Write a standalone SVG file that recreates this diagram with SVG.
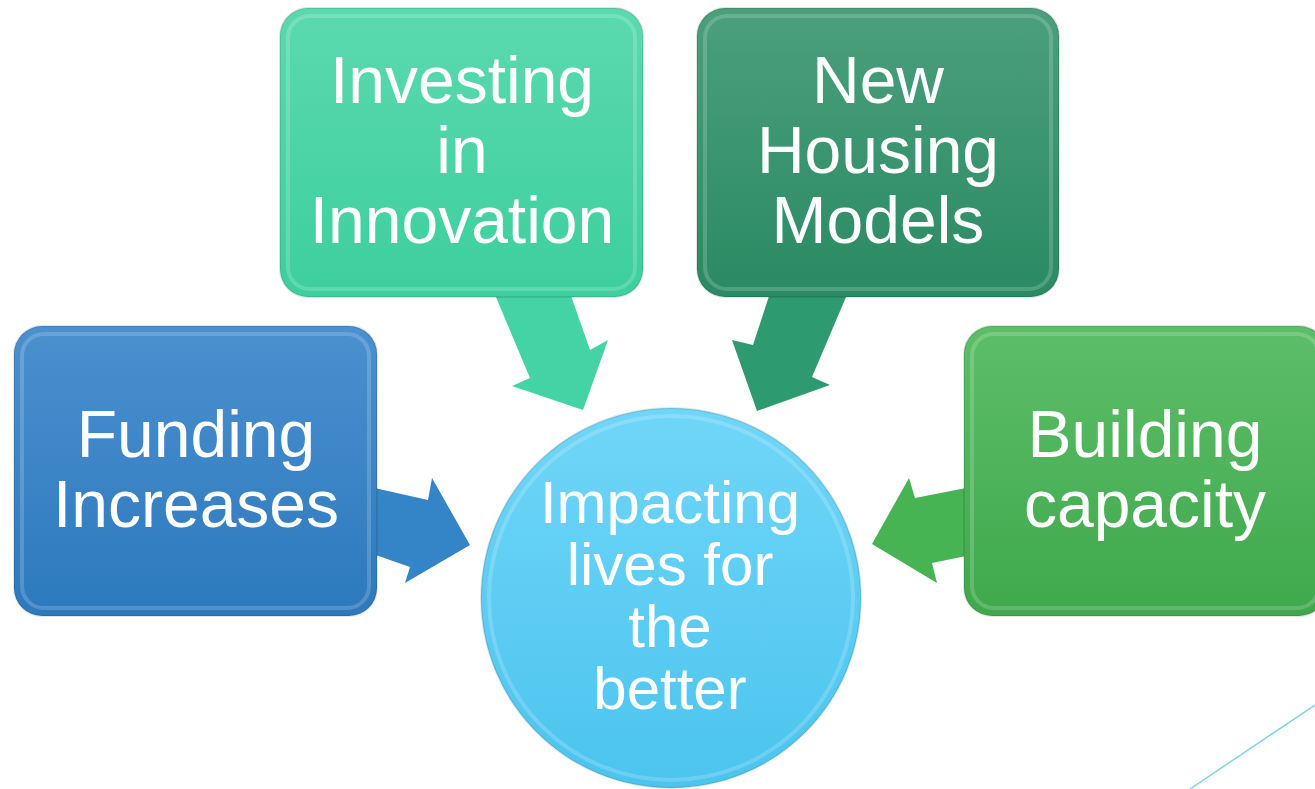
<svg xmlns="http://www.w3.org/2000/svg" width="1315" height="789" viewBox="0 0 1315 789">
<defs>
<linearGradient id="gBlue" x1="0" y1="0" x2="0" y2="1"><stop offset="0" stop-color="#4b90cf"/><stop offset="1" stop-color="#2c79bd"/></linearGradient>
<linearGradient id="gTeal" x1="0" y1="0" x2="0" y2="1"><stop offset="0" stop-color="#5bd9af"/><stop offset="1" stop-color="#3dcf9e"/></linearGradient>
<linearGradient id="gDark" x1="0" y1="0" x2="0" y2="1"><stop offset="0" stop-color="#4b9f7d"/><stop offset="1" stop-color="#2a8a62"/></linearGradient>
<linearGradient id="gGreen" x1="0" y1="0" x2="0" y2="1"><stop offset="0" stop-color="#5dbe69"/><stop offset="1" stop-color="#3fa84c"/></linearGradient>
<linearGradient id="gCircle" x1="0" y1="0" x2="0" y2="1"><stop offset="0" stop-color="#70d6f8"/><stop offset="1" stop-color="#4bc4ee"/></linearGradient>
</defs>
<style>
.bevel{fill:none;stroke:#ffffff;stroke-opacity:0.18;stroke-width:4}
.edge{fill:none;stroke:#000000;stroke-opacity:0.1;stroke-width:2}
.t{font-family:"Liberation Sans",Arial,sans-serif;fill:#ffffff;text-anchor:middle;font-size:66px}
.tc{font-family:"Liberation Sans",Arial,sans-serif;fill:#ffffff;text-anchor:middle;font-size:60px}
</style>
<g id="connectors">
<polygon points="370,487 428,500 432,478 470,545 405,583 410,567 370,553" fill="#3485c7"/>
<polygon points="971,487 915,498 909,478 872,544 937,583 932,563 971,555" fill="#47b453"/>
<polygon points="493,290 530,378 512,386 583,410 608,340 590,350 569,290" fill="#43d3a4"/>
<polygon points="771,290 753,345 732,340 757,411 830,385 812,377 849,290" fill="#2e9a6f"/>
</g>
<g id="funding">
<rect x="14" y="326" width="363" height="290" rx="28" fill="url(#gBlue)"/>
<rect x="14" y="326" width="363" height="290" rx="28" class="edge"/>
<rect x="22" y="334" width="347" height="274" rx="22" class="bevel"/>
<text class="t" x="196" y="457">Funding</text>
<text class="t" x="196" y="527">Increases</text>
</g>
<g id="investing">
<rect x="280" y="8" width="363" height="289" rx="28" fill="url(#gTeal)"/>
<rect x="280" y="8" width="363" height="289" rx="28" class="edge"/>
<rect x="288" y="16" width="347" height="273" rx="22" class="bevel"/>
<text class="t" x="462" y="103">Investing</text>
<text class="t" x="462" y="173">in</text>
<text class="t" x="462" y="243">Innovation</text>
</g>
<g id="housing">
<rect x="697" y="8" width="362" height="289" rx="28" fill="url(#gDark)"/>
<rect x="697" y="8" width="362" height="289" rx="28" class="edge"/>
<rect x="705" y="16" width="346" height="273" rx="22" class="bevel"/>
<text class="t" x="878" y="103">New</text>
<text class="t" x="878" y="173">Housing</text>
<text class="t" x="878" y="243">Models</text>
</g>
<g id="building">
<rect x="964" y="326" width="363" height="290" rx="28" fill="url(#gGreen)"/>
<rect x="964" y="326" width="363" height="290" rx="28" class="edge"/>
<rect x="972" y="334" width="347" height="274" rx="22" class="bevel"/>
<text class="t" x="1145" y="457">Building</text>
<text class="t" x="1145" y="527">capacity</text>
</g>
<g id="impact">
<circle cx="671" cy="598" r="190" fill="url(#gCircle)"/>
<circle cx="671" cy="598" r="190" class="edge"/>
<circle cx="671" cy="598" r="182" class="bevel"/>
<text class="tc" x="670" y="523">Impacting</text>
<text class="tc" x="670" y="585">lives for</text>
<text class="tc" x="670" y="647">the</text>
<text class="tc" x="670" y="709">better</text>
</g>
<line x1="1190" y1="789" x2="1315" y2="705" stroke="#7fd3f0" stroke-width="1.5"/>
</svg>
